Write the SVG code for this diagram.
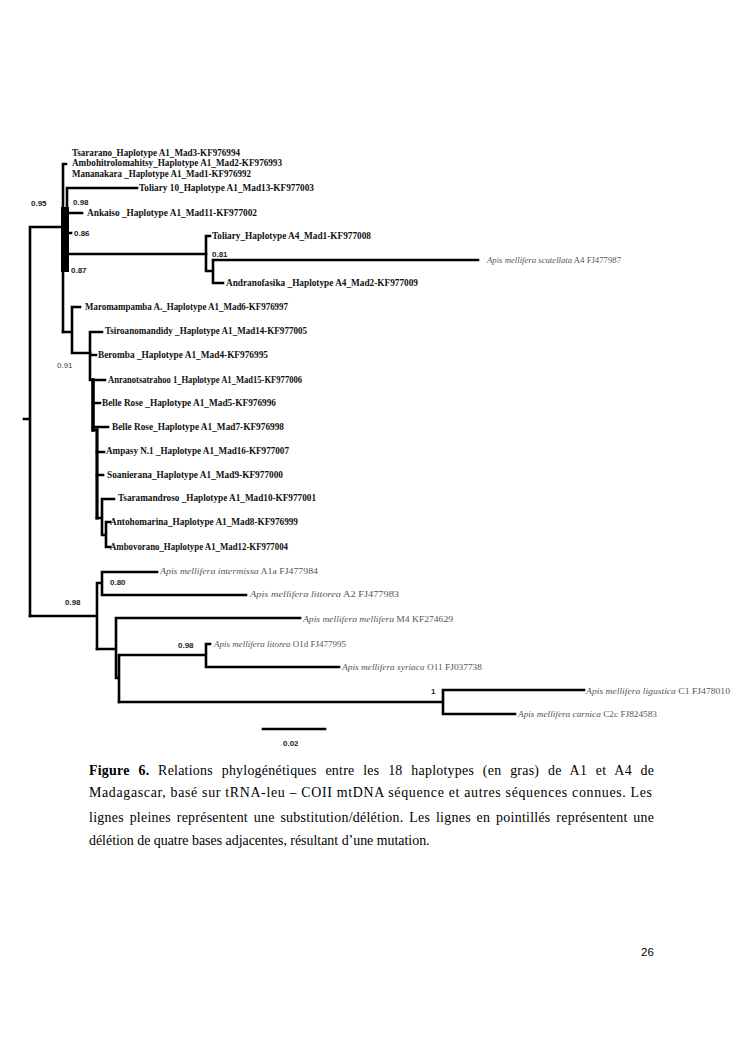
<svg xmlns="http://www.w3.org/2000/svg" width="744" height="1053" viewBox="0 0 744 1053">
<style>
.br{fill:none;stroke:#000;stroke-width:2.6;stroke-linecap:square}
.lab{font-family:"Liberation Serif","Times New Roman",serif;font-weight:bold;font-size:9.3px;fill:#111}
.out{font-family:"Liberation Serif","Times New Roman",serif;font-size:7.6px;fill:#555}
.out tspan.sp{font-style:italic}
.sup{font-family:"Liberation Sans",Arial,sans-serif;font-weight:bold;font-size:8px;fill:#222}
.cap{font-family:"Liberation Serif","Times New Roman",serif;font-size:13.9px;fill:#000}
.pg{font-family:"Liberation Sans",Arial,sans-serif;font-size:11.5px;fill:#000}
</style>
<rect width="744" height="1053" fill="#fff"/>
<g id="connectors">
<path class="br" d="M24,419H30M30,227V616M30,227H63M63,164V332M63,164H66"/>
<rect x="61" y="207" width="8" height="65" fill="#000"/>
<path class="br" d="M67,188V254M67,188H137M67,213H82M67,233H71M67,254H206"/>
<path class="br" d="M206,236V271M206,236H210M206,271H213M213,260V283M213,260H478M213,283H223"/>
<path class="br" d="M63,332H72M72,307V353M72,307H80M72,353H90"/>
<path class="br" d="M90,332V380M90,332H102M90,355H96M90,380H105"/>
<path class="br" style="stroke-width:3.6" d="M93,380V430"/>
<path class="br" d="M93,403H100M93,427H108M93,430H97"/>
<path class="br" style="stroke-width:3.2" d="M97,430V518"/>
<path class="br" d="M97,452H104M97,475H103M97,518H102M102,499V535M102,499H114M102,535H106M106,522V547M106,522H110M106,547H110"/>
<path class="br" d="M30,616H97M97,583V649M97,583H102M102,572V595M102,572H157M102,595H246"/>
<path class="br" d="M97,649H116M116,618V678M116,618H300M116,678H119M119,655V702M119,655H206M206,644V667M206,644H210M206,667H339"/>
<path class="br" d="M119,702H443M443,690V714M443,690H584M443,714H515"/>
<path class="br" d="M263,729H325"/>
</g>
<g id="n1"><text class="lab" x="72" y="156" textLength="168" lengthAdjust="spacingAndGlyphs">Tsararano_Haplotype A1_Mad3-KF976994</text></g>
<g id="n2"><text class="lab" x="72" y="166" textLength="210" lengthAdjust="spacingAndGlyphs">Ambohitrolomahitsy_Haplotype A1_Mad2-KF976993</text></g>
<g id="n3"><text class="lab" x="72" y="177" textLength="179" lengthAdjust="spacingAndGlyphs">Mananakara _Haplotype A1_Mad1-KF976992</text></g>
<g id="n4"><text class="lab" x="139" y="191" textLength="175" lengthAdjust="spacingAndGlyphs">Toliary 10_Haplotype A1_Mad13-KF977003</text></g>
<g id="n5"><text class="lab" x="87" y="216" textLength="170" lengthAdjust="spacingAndGlyphs">Ankaiso _Haplotype A1_Mad11-KF977002</text></g>
<g id="n6"><text class="lab" x="212" y="239" textLength="159" lengthAdjust="spacingAndGlyphs">Toliary_Haplotype A4_Mad1-KF977008</text></g>
<g id="n7"><text class="out" x="487" y="263" textLength="134" lengthAdjust="spacingAndGlyphs"><tspan class="sp">Apis mellifera scutellata</tspan> A4 FJ477987</text></g>
<g id="n8"><text class="lab" x="226" y="286" textLength="192" lengthAdjust="spacingAndGlyphs">Andranofasika _Haplotype A4_Mad2-KF977009</text></g>
<g id="n9"><text class="lab" x="85" y="310" textLength="203" lengthAdjust="spacingAndGlyphs">Maromampamba A._Haplotype A1_Mad6-KF976997</text></g>
<g id="n10"><text class="lab" x="105" y="334" textLength="202" lengthAdjust="spacingAndGlyphs">Tsiroanomandidy _Haplotype A1_Mad14-KF977005</text></g>
<g id="n11"><text class="lab" x="98" y="358" textLength="170" lengthAdjust="spacingAndGlyphs">Beromba _Haplotype A1_Mad4-KF976995</text></g>
<g id="n12"><text class="lab" x="108" y="383" textLength="194" lengthAdjust="spacingAndGlyphs">Anranotsatrahoo 1_Haplotype A1_Mad15-KF977006</text></g>
<g id="n13"><text class="lab" x="102" y="406" textLength="174" lengthAdjust="spacingAndGlyphs">Belle Rose _Haplotype A1_Mad5-KF976996</text></g>
<g id="n14"><text class="lab" x="112" y="430" textLength="172" lengthAdjust="spacingAndGlyphs">Belle Rose_Haplotype A1_Mad7-KF976998</text></g>
<g id="n15"><text class="lab" x="106" y="454" textLength="183" lengthAdjust="spacingAndGlyphs">Ampasy N.1 _Haplotype A1_Mad16-KF977007</text></g>
<g id="n16"><text class="lab" x="107" y="478" textLength="176" lengthAdjust="spacingAndGlyphs">Soanierana_Haplotype A1_Mad9-KF977000</text></g>
<g id="n17"><text class="lab" x="118" y="501" textLength="198" lengthAdjust="spacingAndGlyphs">Tsaramandroso _Haplotype A1_Mad10-KF977001</text></g>
<g id="n18"><text class="lab" x="110" y="525" textLength="188" lengthAdjust="spacingAndGlyphs">Antohomarina_Haplotype A1_Mad8-KF976999</text></g>
<g id="n19"><text class="lab" x="110" y="550" textLength="178" lengthAdjust="spacingAndGlyphs">Ambovorano_Haplotype A1_Mad12-KF977004</text></g>
<g id="n20"><text class="out" x="160" y="574" textLength="158" lengthAdjust="spacingAndGlyphs"><tspan class="sp">Apis mellifera intermissa</tspan> A1a FJ477984</text></g>
<g id="n21"><text class="out" x="250" y="597" textLength="149" lengthAdjust="spacingAndGlyphs"><tspan class="sp">Apis mellifera littorea</tspan> A2 FJ477983</text></g>
<g id="n22"><text class="out" x="303" y="622" textLength="150" lengthAdjust="spacingAndGlyphs"><tspan class="sp">Apis mellifera mellifera</tspan> M4 KF274629</text></g>
<g id="n23"><text class="out" x="214" y="647" textLength="132" lengthAdjust="spacingAndGlyphs"><tspan class="sp">Apis mellifera litorea</tspan> O1d FJ477995</text></g>
<g id="n24"><text class="out" x="342" y="670" textLength="140" lengthAdjust="spacingAndGlyphs"><tspan class="sp">Apis mellifera syriaca</tspan> O11 FJ037738</text></g>
<g id="n25"><text class="out" x="586" y="694" textLength="144" lengthAdjust="spacingAndGlyphs"><tspan class="sp">Apis mellifera ligustica</tspan> C1 FJ478010</text></g>
<g id="n26"><text class="out" x="518" y="717" textLength="139" lengthAdjust="spacingAndGlyphs"><tspan class="sp">Apis mellifera carnica</tspan> C2c FJ824583</text></g>
<g id="support">
<text class="sup" x="31" y="206">0.95</text>
<text class="sup" x="73" y="205">0.98</text>
<text class="sup" x="74" y="236">0.86</text>
<text class="sup" x="212" y="257">0.81</text>
<text class="sup" x="71" y="273">0.87</text>
<text class="sup" x="57" y="368" style="font-weight:normal;fill:#444">0.91</text>
<text class="sup" x="110" y="585">0.80</text>
<text class="sup" x="65" y="605">0.98</text>
<text class="sup" x="178" y="648">0.98</text>
<text class="sup" x="431" y="694">1</text>
<text class="sup" x="283" y="746">0.02</text>
</g>
<g id="caption">
<text class="cap" x="89" y="775" textLength="565" lengthAdjust="spacing" word-spacing="5"><tspan font-weight="bold">Figure 6.</tspan> Relations phylogénétiques entre les 18 haplotypes (en gras) de A1 et A4 de</text>
<text class="cap" x="89" y="797" textLength="563" lengthAdjust="spacing">Madagascar, basé sur tRNA-leu – COII mtDNA séquence et autres séquences connues. Les</text>
<text class="cap" x="89" y="822" textLength="565" lengthAdjust="spacing" word-spacing="2">lignes pleines représentent une substitution/délétion. Les lignes en pointillés représentent une</text>
<text class="cap" x="89" y="845">délétion de quatre bases adjacentes, résultant d’une mutation.</text>
</g>
<text class="pg" x="641" y="956">26</text>
</svg>
